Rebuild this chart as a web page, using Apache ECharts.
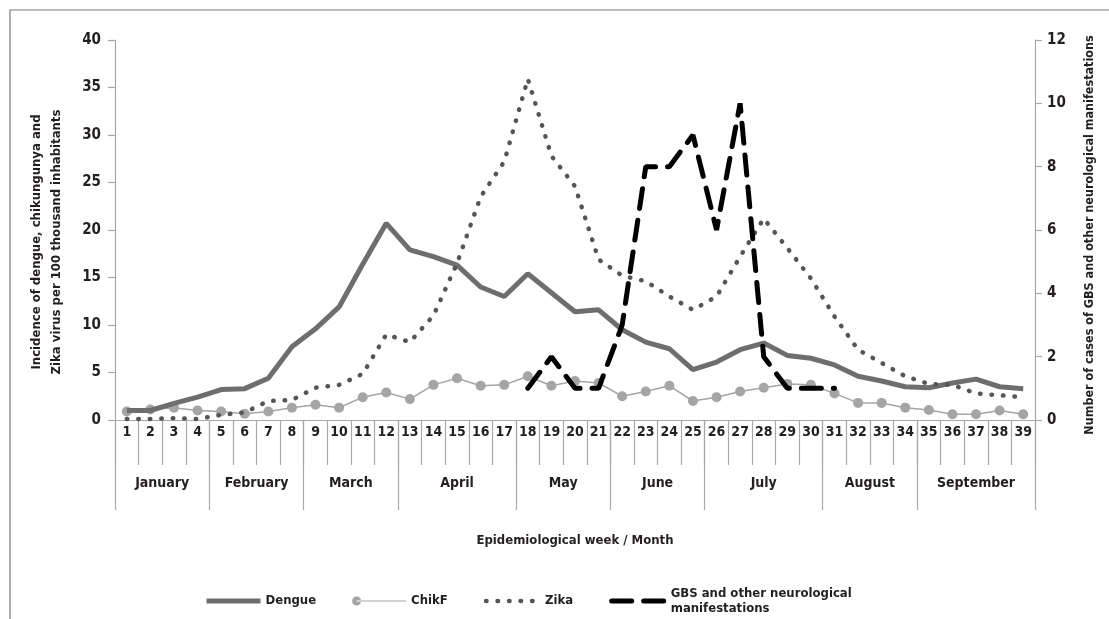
<!DOCTYPE html>
<html>
<head>
<meta charset="utf-8">
<script src="https://cdn.jsdelivr.net/npm/echarts@6/dist/echarts.min.js"></script>
<style>
  html, body { margin: 0; padding: 0; background: #fff; }
  #chart { width: 1109px; height: 619px; }
</style>
</head>
<body>
<div id="chart"></div>
<script>
// epidemiological weeks 1..39
var weeks = ['1','2','3','4','5','6','7','8','9','10','11','12','13','14','15','16','17','18','19','20',
             '21','22','23','24','25','26','27','28','29','30','31','32','33','34','35','36','37','38','39'];
var months = ['January','February','March','April','May','June','July','August','September'];
var weeksPerMonth = [4, 4, 4, 5, 4, 4, 5, 4, 5];

// incidence per 100 thousand (left axis)
var dengue = [1.0,1.0,1.75,2.4,3.2,3.3,4.4,7.7,9.6,11.9,16.4,20.7,17.9,17.2,16.3,14.0,13.0,15.4,13.4,11.4,
              11.6,9.5,8.2,7.5,5.3,6.1,7.4,8.1,6.8,6.5,5.8,4.6,4.1,3.5,3.4,3.9,4.3,3.5,3.3];
var chikf = [0.9,1.1,1.3,1.0,0.9,0.65,0.9,1.3,1.6,1.3,2.4,2.9,2.2,3.7,4.4,3.6,3.7,4.6,3.6,4.1,
             3.9,2.5,3.0,3.6,2.0,2.4,3.0,3.4,3.8,3.7,2.8,1.8,1.8,1.3,1.05,0.6,0.6,1.0,0.6];
var zika = [0.1,0.1,0.2,0.1,0.55,0.8,2.0,2.1,3.4,3.7,4.85,9.0,8.2,11.0,16.5,23.5,27.2,35.9,27.8,24.6,
            16.9,15.2,14.6,13.0,11.6,13.0,17.2,21.2,18.1,14.9,10.9,7.4,6.0,4.6,3.8,3.7,2.8,2.6,2.4];
// GBS cases (right axis)
var gbs = [null,null,null,null,null,null,null,null,null,null,null,null,null,null,null,null,null,
           1,2,1,1,3,8,8,9,6,10,2,1,1,1,null,null,null,null,null,null,null,null];

// month boundaries / centres on a 0..39 week scale
var monthEdges = [0];
var monthMids = [];
weeksPerMonth.forEach(function (n) {
  var start = monthEdges[monthEdges.length - 1];
  monthMids.push(start + n / 2);
  monthEdges.push(start + n);
});

var FONT = "'Liberation Sans Narrow', 'DejaVu Sans Condensed', sans-serif";
var TXT = '#231f20';
var AXIS = '#a8a8a8';
// circle on the left end of a thin line, for the ChikF legend key
var chikIcon = 'path://M0,4.5A4.5,4.5 0 1,0 9,4.5A4.5,4.5 0 1,0 0,4.5Z M4.5,3.9L54,3.9L54,5.1L4.5,5.1Z';

var chart = echarts.init(document.getElementById('chart'));
chart.setOption({
  backgroundColor: '#fff',
  animation: false,
  textStyle: { fontFamily: FONT, color: TXT },
  graphic: [{
    type: 'rect',
    shape: { x: 10, y: 10, width: 1200, height: 700 },
    style: { fill: 'none', stroke: '#7a7a7a', lineWidth: 1.2 }
  }],
  grid: { left: 115, right: 74, top: 40, bottom: 199, containLabel: false },
  legend: {
    left: 199,
    top: 581,
    itemWidth: 54,
    itemHeight: 9,
    itemGap: 36,
    lineStyle: { width: 'inherit' },
    textStyle: { fontFamily: FONT, fontSize: 13, fontWeight: 'bold', color: TXT, lineHeight: 15 },
    formatter: function (name) {
      return name.indexOf('GBS') === 0 ? 'GBS and other neurological\nmanifestations' : name;
    },
    data: [
      { name: 'Dengue', itemStyle: { opacity: 0 } },
      { name: 'ChikF', icon: chikIcon },
      { name: 'Zika', itemStyle: { opacity: 0 } },
      { name: 'GBS and other neurological manifestations', itemStyle: { opacity: 0 } }
    ]
  },
  xAxis: [{
    type: 'category',
    data: weeks,
    boundaryGap: true,
    axisLine: { lineStyle: { color: AXIS, width: 1.2 } },
    axisTick: { show: true, interval: 0, length: 45, lineStyle: { color: AXIS, width: 1.2 } },
    axisLabel: { interval: 0, margin: 5, fontSize: 14, fontWeight: 'bold', color: TXT, fontFamily: FONT },
    splitLine: { show: false }
  }, {
    type: 'value',
    min: 0,
    max: 39,
    position: 'bottom',
    axisLine: { show: false },
    splitLine: { show: false },
    axisTick: { show: true, customValues: monthEdges, length: 90, lineStyle: { color: AXIS, width: 1.2 } },
    axisLabel: {
      customValues: monthMids,
      margin: 56,
      fontSize: 14,
      fontWeight: 'bold',
      color: TXT,
      fontFamily: FONT,
      formatter: function (v) { return months[monthMids.indexOf(v)] || ''; }
    },
    name: 'Epidemiological week / Month',
    nameLocation: 'middle',
    nameGap: 114,
    nameTextStyle: { fontSize: 13, fontWeight: 'bold', color: TXT, fontFamily: FONT }
  }],
  yAxis: [{
    type: 'value',
    min: 0,
    max: 40,
    interval: 5,
    position: 'left',
    axisLine: { show: true, lineStyle: { color: AXIS, width: 1.2 } },
    axisTick: { show: true, length: 7, lineStyle: { color: AXIS, width: 1.2 } },
    splitLine: { show: false },
    axisLabel: { margin: 14, fontSize: 15, fontWeight: 'bold', color: TXT, fontFamily: FONT },
    name: 'Incidence of dengue, chikungunya and\nZika virus per 100 thousand inhabitants',
    nameLocation: 'middle',
    nameRotate: 90,
    nameGap: 48,
    nameTextStyle: { fontSize: 13, fontWeight: 'bold', color: TXT, fontFamily: FONT, lineHeight: 20, padding: [0, 0, 0, -24] }
  }, {
    type: 'value',
    min: 0,
    max: 12,
    interval: 2,
    position: 'right',
    axisLine: { show: true, lineStyle: { color: AXIS, width: 1.2 } },
    axisTick: { show: true, length: 7, lineStyle: { color: AXIS, width: 1.2 } },
    splitLine: { show: false },
    axisLabel: { margin: 12, fontSize: 15, fontWeight: 'bold', color: TXT, fontFamily: FONT },
    name: 'Number of cases of GBS and other neurological manifestations',
    nameLocation: 'middle',
    nameRotate: 90,
    nameGap: 48,
    nameTextStyle: { fontSize: 12.5, fontWeight: 'bold', color: TXT, fontFamily: FONT, padding: [0, 0, 0, -10] }
  }],
  series: [{
    name: 'Dengue',
    type: 'line',
    data: dengue,
    symbol: 'none',
    z: 3,
    itemStyle: { color: '#6e6e6e' },
    lineStyle: { color: '#6e6e6e', width: 5 }
  }, {
    name: 'ChikF',
    type: 'line',
    data: chikf,
    symbol: 'circle',
    symbolSize: 10,
    z: 2,
    itemStyle: { color: '#a5a5a5' },
    lineStyle: { color: '#a5a5a5', width: 1.5 }
  }, {
    name: 'Zika',
    type: 'line',
    data: zika,
    symbol: 'none',
    z: 4,
    itemStyle: { color: '#555' },
    lineStyle: { color: '#555', width: 4.5, type: [0.5, 11], cap: 'round' }
  }, {
    name: 'GBS and other neurological manifestations',
    type: 'line',
    yAxisIndex: 1,
    data: gbs,
    symbol: 'none',
    connectNulls: false,
    z: 5,
    itemStyle: { color: '#000' },
    lineStyle: { color: '#000', width: 5, type: [20, 12], cap: 'round' }
  }]
});
</script>
</body>
</html>
